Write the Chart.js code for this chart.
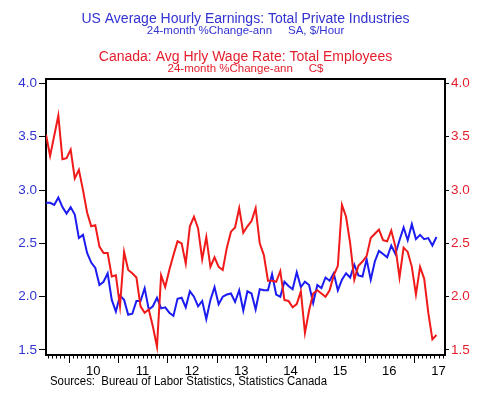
<!DOCTYPE html>
<html>
<head>
<meta charset="utf-8">
<title>US vs Canada wage growth</title>
<script src="https://cdn.jsdelivr.net/npm/chart.js@4"></script>
<style>
  body { margin: 0; background: #fff; }
  canvas { display: block; }
</style>
</head>
<body>
<canvas id="wage-chart" width="500" height="399"></canvas>
<script>
// Monthly data, 24-month % change annualized, first point = Jul 2009
const startYear = 2009;
const startMonth = 7;

const usEarnings = [
  2.88, 2.88, 2.86, 2.93, 2.84, 2.78, 2.84, 2.77, 2.55, 2.58,
  2.41, 2.32, 2.27, 2.11, 2.14, 2.22, 1.97, 1.86, 2.01, 1.97,
  1.83, 1.84, 1.96, 1.96, 2.08, 1.88, 1.91, 1.99, 1.89, 1.90,
  1.85, 1.82, 1.98, 1.99, 1.90, 2.05, 2.00, 1.91, 1.96, 1.79,
  1.97, 2.09, 1.93, 2.00, 2.02, 2.03, 1.95, 2.06, 1.87, 2.05,
  2.03, 1.88, 2.07, 2.06, 2.06, 2.21, 2.02, 2.00, 2.14, 2.10,
  2.07, 2.23, 2.09, 2.14, 2.11, 1.94, 2.11, 2.08, 2.18, 2.15,
  2.22, 2.06, 2.16, 2.22, 2.18, 2.30, 2.20, 2.19, 2.35, 2.16,
  2.33, 2.43, 2.40, 2.37, 2.48, 2.40, 2.53, 2.65, 2.53, 2.68,
  2.54, 2.58, 2.54, 2.55, 2.48, 2.56
];

const canadaWages = [
  3.52, 3.32, 3.51, 3.70, 3.29, 3.30, 3.38, 3.11, 3.19, 3.00,
  2.79, 2.66, 2.67, 2.47, 2.41, 2.41, 2.19, 2.20, 1.91, 2.42,
  2.25, 2.22, 2.18, 1.91, 1.85, 1.88, 1.72, 1.53, 2.20, 2.09,
  2.25, 2.39, 2.52, 2.50, 2.31, 2.66, 2.75, 2.64, 2.35, 2.56,
  2.28, 2.37, 2.28, 2.25, 2.46, 2.61, 2.65, 2.83, 2.60, 2.66,
  2.71, 2.83, 2.50, 2.39, 2.15, 2.15, 2.14, 2.24, 1.97, 1.96,
  1.90, 1.93, 2.05, 1.66, 1.87, 2.03, 2.06, 2.03, 2.00, 2.06,
  2.20, 2.29, 2.86, 2.75, 2.50, 2.16, 2.29, 2.33, 2.38, 2.55,
  2.59, 2.63, 2.53, 2.52, 2.62, 2.47, 2.18, 2.46, 2.42, 2.28,
  2.02, 2.28, 2.17, 1.85, 1.60, 1.64
];

const yTicks = [1.5, 2.0, 2.5, 3.0, 3.5, 4.0];
const yearLabels = ['10', '11', '12', '13', '14', '15', '16', '17'];

const FONT = '"Liberation Sans", Arial, sans-serif';
const BLUE_LINE = '#1c1cf2';
const RED_LINE = '#f01a1a';
const BLUE_TEXT = '#3232d2';
const RED_TEXT = '#e41e2c';

// Titles, month/year ticks on the time axis, top frame line
const decorPlugin = {
  id: 'decor',
  afterDraw(chart) {
    const { ctx, chartArea } = chart;
    const xs = chart.scales.x;
    const cx = (chartArea.left + chartArea.right) / 2;
    ctx.save();

    ctx.strokeStyle = '#000';
    ctx.lineWidth = 2;
    ctx.beginPath();
    ctx.moveTo(chartArea.left - 1, chartArea.top);
    ctx.lineTo(chartArea.right + 1, chartArea.top);
    ctx.stroke();

    // month ticks, longer at each year boundary
    ctx.lineWidth = 1;
    let yearIdx = 0;
    for (let k = 0; k + 0.5 < xs.max; k++) {
      const px = Math.round(xs.getPixelForValue(k + 0.5)) + 0.5;
      const isYear = (startMonth + k) % 12 === 0;
      ctx.beginPath();
      ctx.moveTo(px, chartArea.bottom);
      ctx.lineTo(px, chartArea.bottom + (isYear ? 8 : 3.5));
      ctx.stroke();
      if (isYear && yearIdx < yearLabels.length) {
        const mid = Math.min(k + 0.5 + 6, xs.max - 1.6);
        ctx.fillStyle = '#000';
        ctx.font = '13px ' + FONT;
        ctx.textAlign = 'center';
        ctx.fillText(yearLabels[yearIdx], xs.getPixelForValue(mid), 375);
        yearIdx++;
      }
    }

    ctx.textAlign = 'center';
    ctx.fillStyle = BLUE_TEXT;
    ctx.font = '14px ' + FONT;
    ctx.fillText('US Average Hourly Earnings: Total Private Industries', cx, 22.5);
    ctx.font = '11.5px ' + FONT;
    ctx.fillText('24-month %Change-ann     SA, $/Hour', cx, 33.5);

    ctx.fillStyle = RED_TEXT;
    ctx.font = '14px ' + FONT;
    ctx.fillText('Canada: Avg Hrly Wage Rate: Total Employees', cx, 61);
    ctx.font = '11.5px ' + FONT;
    ctx.fillText('24-month %Change-ann     C$', cx, 71.5);

    ctx.textAlign = 'left';
    ctx.fillStyle = '#000';
    ctx.font = '12px ' + FONT;
    ctx.fillText('Sources:  Bureau of Labor Statistics, Statistics Canada', 50, 385, 277);
    ctx.restore();
  }
};

function toPoints(values) {
  return values.map((v, i) => ({ x: i, y: v }));
}

function valueAxis(position, color, tickLength, width) {
  return {
    position: position,
    min: 1.453,
    max: 4.042,
    afterBuildTicks(s) { s.ticks = yTicks.map(v => ({ value: v })); },
    afterFit(s) { s.width = width; },
    grid: { drawOnChartArea: false, color: '#000', lineWidth: 1, tickLength: tickLength },
    border: { display: true, color: '#000', width: 2 },
    ticks: {
      color: color,
      padding: 2,
      font: { family: FONT, size: 13.5 },
      callback: v => v.toFixed(1)
    }
  };
}

new Chart(document.getElementById('wage-chart'), {
  type: 'line',
  data: {
    datasets: [
      { label: 'Canada', data: toPoints(canadaWages), yAxisID: 'y2', borderColor: RED_LINE, order: 0 },
      { label: 'US', data: toPoints(usEarnings), yAxisID: 'y', borderColor: BLUE_LINE, order: 1 }
    ]
  },
  options: {
    responsive: false,
    animation: false,
    layout: { padding: { top: 79, left: 0, right: 0, bottom: 0 } },
    plugins: { legend: { display: false }, tooltip: { enabled: false } },
    elements: {
      point: { radius: 0 },
      line: { borderWidth: 2, tension: 0 }
    },
    scales: {
      x: {
        type: 'linear',
        min: 0,
        max: 97.07,
        grid: { display: false },
        border: { display: true, color: '#000', width: 2 },
        ticks: { display: false },
        afterFit(s) { s.height = 44; }
      },
      y: valueAxis('left', BLUE_TEXT, 7, 46),
      y2: valueAxis('right', RED_TEXT, 4, 55)
    }
  },
  plugins: [decorPlugin]
});
</script>
</body>
</html>
